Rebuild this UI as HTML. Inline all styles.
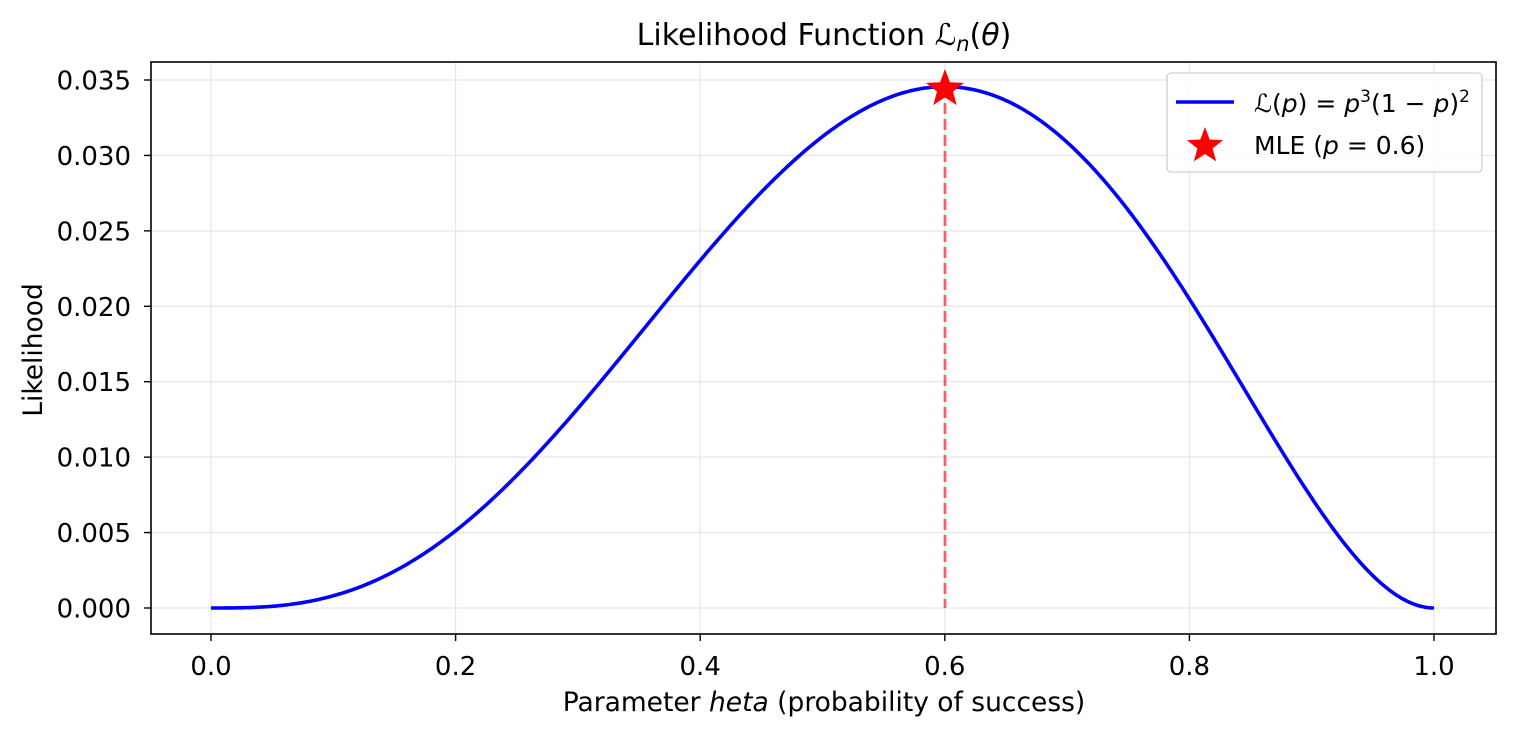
<!DOCTYPE html>
<html><head><meta charset="utf-8"><style>
html,body{margin:0;padding:0;background:#fff;}
svg text{font-family:"DejaVu Sans","Liberation Sans",sans-serif;fill:#000;}
</style></head><body>
<svg id="s" width="1514" height="739" viewBox="0 0 1514 739" xmlns="http://www.w3.org/2000/svg">
<rect width="1514" height="739" fill="#fff"/>
<g id="grid" stroke="#e6e6e6" stroke-width="1.2"></g>
<g id="ticks"></g>
<polyline id="curve" fill="none" stroke="#0000ff" stroke-width="3.6" stroke-linejoin="round"/>
<line x1="945" y1="87" x2="945" y2="608" stroke="#ff0000" stroke-opacity="0.6" stroke-width="2.8" stroke-dasharray="11,5"/>
<polygon id="star" fill="#ff0000"/>
<rect x="151" y="62" width="1345" height="572" fill="none" stroke="#000" stroke-width="1.6"/>
<text x="824" y="45" font-size="30" text-anchor="middle">Likelihood Function <tspan font-style="italic">ℒ</tspan><tspan font-size="21" dy="6" font-style="italic">n</tspan><tspan dy="-6">(</tspan><tspan font-style="italic">θ</tspan>)</text>
<text x="824" y="711" font-size="26.5" text-anchor="middle">Parameter <tspan font-style="italic">heta</tspan> (probability of success)</text>
<text transform="translate(42,350) rotate(-90)" font-size="26.5" text-anchor="middle">Likelihood</text>
<rect x="1167" y="73" width="315" height="99" rx="4" fill="#fff" fill-opacity="0.8" stroke="#d0d0d0" stroke-width="1.3"/>
<line x1="1176" y1="102" x2="1234" y2="102" stroke="#0000ff" stroke-width="3.6"/>
<text x="1254" y="112" font-size="25"><tspan font-style="italic">ℒ</tspan>(<tspan font-style="italic">p</tspan>) = <tspan font-style="italic">p</tspan><tspan font-size="17" dy="-10">3</tspan><tspan dy="10">(1 − </tspan><tspan font-style="italic">p</tspan>)<tspan font-size="17" dy="-10">2</tspan></text>
<polygon id="star2" fill="#ff0000"/>
<text x="1254" y="154" font-size="25">MLE (<tspan font-style="italic">p</tspan> = 0.6)</text>
</svg>
<script>
var ns="http://www.w3.org/2000/svg";
function X(v){return 211+v*1223;}
function Y(v){return 608-v/0.035*528;}
var g=document.getElementById('grid'),t=document.getElementById('ticks');
function el(p,n,a){var e=document.createElementNS(ns,n);for(var k in a)e.setAttribute(k,a[k]);p.appendChild(e);return e;}
for(var i=0;i<=5;i++){var x=X(i*0.2);
el(g,'line',{x1:x,y1:62,x2:x,y2:634});
el(t,'line',{x1:x,y1:634,x2:x,y2:641,stroke:'#000','stroke-width':1.4});
var tx=el(t,'text',{x:x,y:675,'font-size':26,'text-anchor':'middle'});tx.textContent=(i*0.2).toFixed(1);}
for(var i=0;i<=7;i++){var y=Y(i*0.005);
el(g,'line',{x1:151,y1:y,x2:1496,y2:y});
el(t,'line',{x1:144,y1:y,x2:151,y2:y,stroke:'#000','stroke-width':1.4});
var ty=el(t,'text',{x:131,y:y+9.5,'font-size':26,'text-anchor':'end'});ty.textContent=(i*0.005).toFixed(3);}
var pts=[];for(var i=0;i<=400;i++){var p=i/400;pts.push(X(p).toFixed(2)+','+Y(p*p*p*(1-p)*(1-p)).toFixed(2));}
document.getElementById('curve').setAttribute('points',pts.join(' '));
function star(id,cx,cy,R){var r=R*0.42,a=[];for(var k=0;k<10;k++){var ang=-Math.PI/2+k*Math.PI/5,rr=k%2?r:R;a.push((cx+rr*Math.cos(ang)).toFixed(2)+','+(cy+rr*Math.sin(ang)).toFixed(2));}
document.getElementById(id).setAttribute('points',a.join(' '));}
star('star',945,89,20);star('star2',1205,146,19);
</script>
</body></html>
